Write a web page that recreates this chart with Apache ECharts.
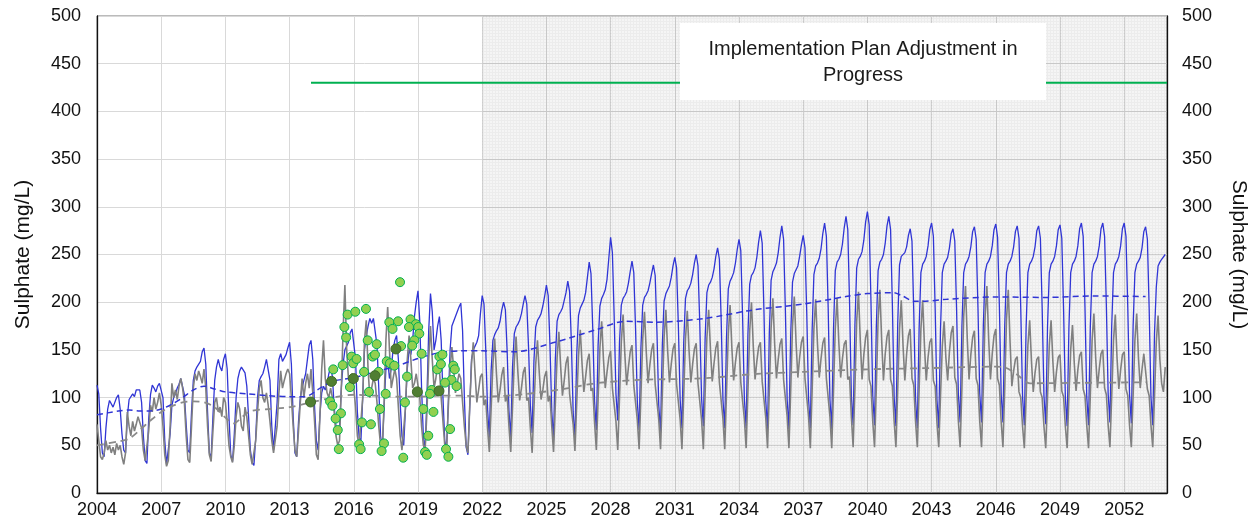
<!DOCTYPE html>
<html>
<head>
<meta charset="utf-8">
<script src="https://cdn.jsdelivr.net/npm/echarts@6/dist/echarts.min.js"></script>
<style>
  html, body { margin: 0; padding: 0; background: #fff; }
  #chart { width: 1259px; height: 529px; }
</style>
</head>
<body>
<div id="chart"></div>
<script>
// Monthly sulphate concentrations (mg/L), one row per calendar year, Jan..Dec
const firstYear = 2004;

const blueMonthly = [
  [113,104,68,42,38,68,88,97,96,90,91,100],      // 2004
  [103,88,62,45,42,80,98,97,104,101,108,110],    // 2005
  [108,95,60,34,31,78,103,113,110,106,112,115],  // 2006
  [116,100,55,30,28,62,92,100,104,110,114,120],  // 2007
  [118,103,72,45,42,85,118,128,132,130,138,148], // 2008
  [152,135,85,42,37,80,118,132,140,132,128,140], // 2009
  [146,130,80,40,33,62,100,120,128,132,133,126], // 2010
  [112,80,45,32,29,58,100,118,122,125,132,140],  // 2011
  [142,118,70,45,43,95,140,146,138,140,145,152], // 2012
  [158,135,80,42,38,75,100,110,118,125,140,155], // 2013
  [160,140,90,55,45,82,105,112,108,115,125,132], // 2014
  [122,90,70,62,68,110,135,150,148,158,168,172], // 2015
  [170,140,85,58,55,100,150,165,175,183,178,183],// 2016
  [183,155,110,60,48,90,130,140,120,130,150,160],// 2017
  [165,140,95,60,50,90,130,150,145,160,185,200], // 2018
  [212,180,110,60,45,100,170,209,190,150,160,175],// 2019
  [185,160,100,55,45,95,150,175,180,185,190,195],// 2020
  [199,170,100,48,40,90,140,150,152,158,165,188],// 2021
  [207,198,150,88,58,128,160,166,170,173,180,192],// 2022
  [200,192,148,86,58,132,167,174,177,181,188,198],// 2023
  [207,198,152,92,63,138,174,181,184,188,196,206],// 2024
  [218,207,155,86,55,140,180,187,190,194,202,210],// 2025
  [222,211,158,85,55,145,186,194,198,202,210,226],// 2026
  [242,230,172,96,66,155,196,204,208,213,224,246],// 2027
  [268,252,185,104,76,158,197,204,207,211,220,232],// 2028
  [243,231,172,95,66,152,197,205,208,212,220,230],// 2029
  [239,228,168,92,63,155,201,209,213,217,226,238],// 2030
  [247,236,175,98,68,158,204,212,215,220,229,241],// 2031
  [250,238,178,100,70,162,210,218,221,226,235,248],// 2032
  [257,245,182,98,68,163,214,222,226,231,241,255],// 2033
  [266,254,186,99,68,166,219,228,231,236,247,263],// 2034
  [275,262,190,97,66,167,223,232,236,241,252,268],// 2035
  [280,266,192,98,67,166,221,230,234,238,248,260],// 2036
  [270,257,188,99,68,170,229,238,241,246,256,272],// 2037
  [283,269,194,98,67,172,233,242,245,250,261,278],// 2038
  [290,276,199,102,71,176,236,245,248,253,265,284],// 2039
  [295,281,201,102,71,174,233,242,245,250,262,280],// 2040
  [290,276,198,100,70,177,239,248,250,252,258,270],// 2041
  [277,264,190,98,68,172,231,240,243,248,259,276],// 2042
  [283,269,193,98,68,172,231,240,243,247,257,272],// 2043
  [277,264,193,104,74,175,231,240,243,248,258,274],// 2044
  [279,266,194,104,74,175,231,240,243,248,259,276],// 2045
  [282,268,196,104,74,175,231,240,243,248,258,274],// 2046
  [280,267,193,101,71,174,231,240,243,248,258,275],// 2047
  [280,267,194,102,72,174,231,240,243,248,259,276],// 2048
  [281,267,193,100,70,173,231,240,243,248,259,277],// 2049
  [283,269,195,101,71,174,231,240,243,248,259,277],// 2050
  [283,269,196,104,74,175,231,240,243,248,259,277],// 2051
  [283,269,195,103,73,175,231,240,243,247,257,274],// 2052
  [279,266,193,101,71,168,216,238,242,245,247,250] // 2053
];

const greyMonthly = [
  [72,55,38,35,42,55,45,50,42,48,40,52],         // 2004
  [45,50,38,30,42,85,70,60,75,65,72,80],         // 2005
  [82,68,45,34,36,65,92,85,100,88,95,105],       // 2006
  [92,70,40,28,34,70,115,100,108,98,112,120],    // 2007
  [110,95,60,35,32,70,110,125,118,128,122,115],  // 2008
  [130,110,70,40,33,65,95,100,85,90,80,100],     // 2009
  [95,75,50,38,32,50,80,95,88,70,65,90],         // 2010
  [80,60,40,30,28,55,85,110,118,100,95,105],     // 2011
  [92,75,55,42,40,70,105,128,110,118,125,130],   // 2012
  [125,100,70,45,38,65,95,120,100,115,125,110],  // 2013
  [130,105,75,40,35,80,130,160,120,105,100,110], // 2014
  [100,85,60,50,55,110,170,218,150,120,115,125], // 2015
  [110,90,60,50,52,100,160,181,130,100,110,120], // 2016
  [115,95,70,50,45,95,160,195,150,110,120,130],  // 2017
  [120,90,60,45,45,90,140,165,140,110,115,125],  // 2018
  [125,100,70,50,45,85,140,175,140,110,120,135], // 2019
  [130,100,75,50,45,90,130,153,130,105,115,125], // 2020
  [120,95,70,50,42,90,135,158,125,95,108,122],   // 2021
  [125,92,98,68,43,88,135,162,125,95,108,124],   // 2022
  [132,96,102,70,43,90,138,164,127,97,110,126],  // 2023
  [132,97,100,68,42,88,135,160,126,98,108,122],  // 2024
  [128,96,102,70,43,92,142,169,132,102,118,136], // 2025
  [143,104,106,72,44,94,144,171,135,106,122,139],// 2026
  [146,107,110,74,45,98,152,180,140,110,127,142],// 2027
  [149,110,112,75,45,100,158,187,145,113,132,148],// 2028
  [155,113,114,76,46,102,161,190,148,115,134,150],// 2029
  [157,114,116,77,46,103,163,192,149,116,135,151],// 2030
  [157,114,116,77,46,103,162,191,149,116,135,151],// 2031
  [157,115,117,77,46,104,163,192,150,117,136,152],// 2032
  [159,116,118,78,46,105,167,197,152,118,137,152],// 2033
  [158,116,118,78,47,106,170,200,154,119,138,153],// 2034
  [158,117,119,79,47,107,173,204,156,120,140,156],// 2035
  [162,119,121,80,47,108,175,206,158,121,142,158],// 2036
  [164,120,122,80,47,107,172,203,157,121,141,157],// 2037
  [163,120,122,80,47,108,173,204,157,121,141,156],// 2038
  [160,119,122,80,48,110,180,211,160,119,145,163],// 2039
  [171,119,112,75,48,110,182,213,160,118,146,164],// 2040
  [171,119,112,75,48,108,172,202,154,118,146,165],// 2041
  [172,120,113,75,48,108,172,202,154,118,142,158],// 2042
  [162,118,112,74,48,102,154,180,142,118,148,168],// 2043
  [175,121,114,76,48,110,185,217,162,119,145,163],// 2044
  [170,120,113,75,48,110,185,217,162,119,146,165],// 2045
  [172,120,113,75,48,109,182,213,158,112,128,140],// 2046
  [143,106,100,70,47,100,155,181,138,106,126,140],// 2047
  [143,106,100,70,47,100,155,181,138,106,127,142],// 2048
  [145,107,101,70,47,101,150,176,136,107,129,144],// 2049
  [148,109,102,71,47,102,160,188,142,110,130,146],// 2050
  [150,110,103,71,48,102,160,187,141,109,129,145],// 2051
  [148,109,102,71,48,102,160,188,142,110,130,146],// 2052
  [148,109,102,71,48,102,158,186,140,115,106,132] // 2053
];

// Smoothed trends: [year, mg/L]
const blueTrend = [
  [2004,82],[2004.5,84],[2005,86],[2005.5,87],[2006,86],[2006.5,86],[2007,88],[2007.5,93],
  [2008,100],[2008.5,108],[2009,112],[2009.5,109],[2010,106],[2011,104],[2012,102],[2013,101],
  [2013.7,101],[2014.5,111],[2015,117],[2016,121],[2017,127],[2018,133],[2019,141],[2020,147],
  [2021,149],[2022,149],[2023.5,148],[2025.4,158],[2027.3,171],[2028.7,180],[2030.1,179],
  [2032.4,183],[2034.7,192],[2037,198],[2039,206],[2040,209],[2041.2,210],[2041.6,207],
  [2042.2,201],[2042.6,201],[2043.7,203],[2046,205.5],[2048.3,205],[2050.6,206.5],[2053,206]
];

const greyTrend = [
  [2004,50],[2005,54],[2005.5,57],[2006,66],[2006.5,76],[2007,85],[2007.5,91],[2008,95],
  [2008.5,96],[2009,95],[2009.5,90],[2010,79],[2010.4,73],[2010.8,80],[2011.2,86],[2012,88],
  [2013,90],[2014,95],[2015,100],[2016,103],[2017,102],[2018,101],[2019,101],[2020,102],
  [2021,102],[2022,101],[2023.5,102.6],[2025.5,108],[2027.3,115],[2029.3,118.5],[2032.4,120.3],
  [2034.7,124.7],[2037,127],[2040,129.6],[2043,131],[2046,132.4],[2046.5,131],[2047,124],
  [2047.6,115],[2050,115.5],[2053,116]
];

// Field samples
const samples = [
  [2018.16,221],[2015.71,187],[2016.07,190],[2016.57,193],[2015.56,174],[2015.64,163],
  [2017.66,179],[2017.81,172],[2018.07,180],[2018.65,182],[2018.90,177],[2019.01,174],
  [2018.58,174],[2019.06,167],[2018.83,160],[2018.73,154.5],[2016.65,160],[2017.07,156],
  [2018.21,154],[2015.90,143],[2015.97,136],[2016.13,140.5],[2016.88,143],[2016.99,145],
  [2017.54,138],[2017.69,136],[2017.89,133.5],[2015.04,129.6],[2015.48,134],[2016.48,127],
  [2017.16,127],[2019.17,146],[2019.90,129.6],[2020.00,143],[2020.14,145],[2020.07,135],
  [2020.65,133.5],[2020.72,129.6],[2020.57,118.5],[2018.49,122],[2015.82,111],[2016.71,106],
  [2017.49,104],[2019.64,108],[2019.56,104],[2020.26,115.7],[2020.80,112],[2014.89,96],
  [2015.00,91.5],[2018.39,95],[2017.22,88],[2019.25,88],[2019.72,85],[2015.40,83.5],
  [2015.15,78],[2016.38,74],[2016.80,72],[2015.25,66],[2020.50,67],[2019.48,60],
  [2016.25,51],[2017.41,52],[2015.30,46],[2016.32,46],[2017.30,44],[2019.33,43],
  [2020.31,46],[2018.31,37],[2019.41,40],[2020.42,38]
];

// Annual sample values
const annualSamples = [
  [2013.98,95.4],[2014.96,117],[2015.98,120],[2016.99,123],[2017.97,151],[2018.97,106],[2019.98,107]
];

// Guideline level
const guideline = [[2014,430],[2054,430]];
const planStart = 2022;
const axisEnd = 2054;

function monthlyToPairs(rows) {
  const out = [];
  rows.forEach((row, i) => row.forEach((v, m) => out.push([firstYear + i + m / 12, v])));
  return out;
}

// light stipple fill for the plan period
function stipple() {
  const c = document.createElement('canvas');
  c.width = 3; c.height = 3;
  const g = c.getContext('2d');
  g.fillStyle = 'rgba(0,0,0,0.04)';
  g.fillRect(0, 0, 3, 3);
  g.fillStyle = 'rgba(0,0,0,0.04)';
  g.fillRect(0, 0, 3, 1);
  g.fillRect(0, 1, 1, 2);
  return c;
}

const FONT = '"Liberation Sans", Arial, sans-serif';
const BLUE = '#3035D5';
const GREY = '#808080';

const chart = echarts.init(document.getElementById('chart'), null, { renderer: 'canvas' });

const yCommon = {
  type: 'value', min: 0, max: 500, interval: 50,
  name: 'Sulphate (mg/L)', nameLocation: 'middle',
  nameTextStyle: { fontFamily: FONT, fontSize: 21, color: '#111' },
  axisLine: { show: true, lineStyle: { color: '#111', width: 1.3 } },
  axisTick: { show: false },
  axisLabel: { fontFamily: FONT, fontSize: 18, color: '#111' }
};

chart.setOption({
  animation: false,
  backgroundColor: '#fff',
  grid: { left: 97, right: 92, top: 16, bottom: 36, show: true, borderColor: '#777', borderWidth: 1 },
  xAxis: {
    type: 'value', min: firstYear, max: axisEnd, interval: 3,
    axisLine: { show: true, onZero: false, lineStyle: { color: '#111', width: 1.3 } },
    axisTick: { show: false },
    axisLabel: { fontFamily: FONT, fontSize: 18, color: '#111', margin: 8, showMaxLabel: false, formatter: v => String(v) },
    splitLine: { show: true, lineStyle: { color: '#d9d9d9', width: 1 } }
  },
  yAxis: [
    Object.assign({}, yCommon, {
      position: 'left', nameRotate: 90, nameGap: 63,
      axisLabel: Object.assign({}, yCommon.axisLabel, { margin: 16 }),
      splitLine: { show: true, lineStyle: { color: '#d9d9d9', width: 1 } }
    }),
    Object.assign({}, yCommon, {
      position: 'right', nameRotate: -90, nameGap: 61,
      axisLabel: Object.assign({}, yCommon.axisLabel, { margin: 15 }),
      splitLine: { show: false }
    })
  ],
  series: [
    {
      type: 'line', name: 'plan', data: [], silent: true,
      markArea: {
        silent: true,
        itemStyle: { color: { image: stipple(), repeat: 'repeat' } },
        data: [[{ xAxis: planStart }, { xAxis: axisEnd }]]
      }
    },
    {
      type: 'line', name: 'blue', data: monthlyToPairs(blueMonthly),
      showSymbol: false, symbol: 'none',
      lineStyle: { color: BLUE, width: 1.3 }, z: 3
    },
    {
      type: 'line', name: 'grey', data: monthlyToPairs(greyMonthly),
      showSymbol: false, symbol: 'none',
      lineStyle: { color: GREY, width: 1.6 }, z: 4
    },
    {
      type: 'line', name: 'blueTrend', data: blueTrend, smooth: 0.3,
      showSymbol: false, symbol: 'none',
      lineStyle: { color: BLUE, width: 1.5, type: [6, 4] }, z: 5
    },
    {
      type: 'line', name: 'greyTrend', data: greyTrend, smooth: 0.3,
      showSymbol: false, symbol: 'none',
      lineStyle: { color: '#8a8a8a', width: 1.8, type: [7, 5] }, z: 5
    },
    {
      type: 'line', name: 'guideline', data: guideline,
      showSymbol: false, symbol: 'none',
      lineStyle: { color: '#00B050', width: 2 }, z: 6
    },
    {
      type: 'scatter', name: 'samples', data: samples, symbolSize: 9,
      itemStyle: { color: '#92D050', borderColor: '#00B050', borderWidth: 1, opacity: 1 }, z: 7
    },
    {
      type: 'scatter', name: 'annual', data: annualSamples, symbolSize: 10,
      itemStyle: { color: '#507E32', borderColor: '#3F6B26', borderWidth: 1, opacity: 1 }, z: 8
    }
  ],
  graphic: [
    {
      type: 'rect', z: 100, zlevel: 0,
      shape: { x: 680, y: 23, width: 366, height: 77 },
      style: { fill: '#ffffff', stroke: null }
    },
    {
      type: 'text', z: 101, zlevel: 0,
      x: 863, y: 62,
      style: {
        text: 'Implementation Plan Adjustment in\nProgress',
        font: '20px ' + FONT, fill: '#1a1a1a',
        align: 'center', verticalAlign: 'middle', textAlign: 'center', textVerticalAlign: 'middle',
        lineHeight: 26
      }
    }
  ]
});
</script>
</body>
</html>
